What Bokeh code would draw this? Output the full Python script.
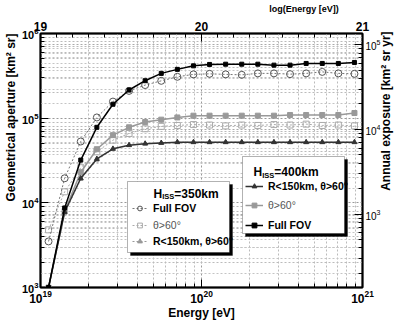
import math
from bokeh.plotting import figure
from bokeh.models import (Range1d, LinearScale, LogScale, LinearAxis, LogAxis,
                          FixedTicker, Grid, Label, BoxAnnotation, Legend, LegendItem, Title)
from bokeh.core.properties import value
from bokeh.embed import file_html
from bokeh.resources import INLINE

# ---------------- data ----------------
log_energy = [19.05, 19.15, 19.25, 19.35, 19.45, 19.55, 19.65, 19.75, 19.85, 19.95,
              20.05, 20.15, 20.25, 20.35, 20.45, 20.55, 20.65, 20.75, 20.85, 20.95]

# H_ISS = 400 km (solid lines)
iss400_full = [1.0e3, 8.7e3, 3.2e4, 7.8e4, 1.46e5, 2.15e5, 2.77e5, 3.38e5, 3.77e5, 4.15e5,
               4.31e5, 4.34e5, 4.34e5, 4.34e5, 4.23e5, 4.23e5, 4.43e5, 4.43e5, 4.43e5, 4.55e5]
iss400_theta60 = [1.0e3, 8.0e3, 2.3e4, 4.3e4, 6.3e4, 7.8e4, 9.0e4, 9.6e4, 1.02e5, 1.07e5,
                  1.07e5, 1.07e5, 1.07e5, 1.07e5, 1.07e5, 1.09e5, 1.09e5, 1.09e5, 1.09e5, 1.15e5]
iss400_r150 = [1.0e3, 7.8e3, 1.95e4, 3.3e4, 4.35e4, 4.8e4, 5.0e4, 5.1e4, 5.2e4, 5.2e4,
               5.2e4, 5.2e4, 5.2e4, 5.2e4, 5.2e4, 5.2e4, 5.2e4, 5.2e4, 5.2e4, 5.2e4]

# H_ISS = 350 km (dotted lines)
iss350_full = [3.5e3, 1.95e4, 5.3e4, 1.02e5, 1.57e5, 2.1e5, 2.46e5, 2.76e5, 3.08e5, 3.29e5,
               3.34e5, 3.29e5, 3.25e5, 3.38e5, 3.38e5, 3.31e5, 3.38e5, 3.52e5, 3.38e5, 3.34e5]
iss350_theta60 = [4.8e3, 1.35e4, 2.6e4, 4.0e4, 5.5e4, 6.6e4, 7.5e4, 8.0e4, 8.2e4, 8.4e4,
                  8.3e4, 8.1e4, 8.3e4, 8.2e4, 8.4e4, 8.3e4, 8.5e4, 8.2e4, 8.3e4, 8.1e4]
iss350_r150 = [1.0e3, 7.5e3, 1.9e4, 3.2e4, 4.3e4, 4.8e4, 5.0e4, 5.1e4, 5.2e4, 5.2e4,
               5.2e4, 5.2e4, 5.2e4, 5.2e4, 5.2e4, 5.2e4, 5.2e4, 5.2e4, 5.2e4, 5.2e4]

exposure_per_aperture = 0.136   # right axis: annual exposure / aperture [yr]

bottom_ticks = [1e19, 1e20, 1e21]
top_ticks = [19, 20, 21]
left_ticks = [1e3, 1e4, 1e5, 1e6]
right_ticks = [1e3, 1e4, 1e5]

# ---------------- figure ----------------
FONT = "Liberation Sans"
NBSP = "\u00a0"
energy = [10 ** v for v in log_energy]


def log_minor(lo, hi):
    return [k * 10.0 ** e for e in range(lo, hi) for k in range(2, 10)]


p = figure(width=402, height=322, x_axis_type="log", y_axis_type="log",
           x_range=Range1d(1e19, 1e21), y_range=Range1d(1e3, 1e6),
           output_backend="svg", toolbar_location=None, title=None,
           min_border_left=40, min_border_right=40, min_border_top=33, min_border_bottom=33,
           background_fill_color="white", border_fill_color="white",
           outline_line_color="black", outline_line_width=2)

p.extra_x_ranges = {"lg": Range1d(19, 21)}
p.extra_x_scales = {"lg": LinearScale()}
p.extra_y_ranges = {"exp": Range1d(1e3 * exposure_per_aperture, 1e6 * exposure_per_aperture)}
p.extra_y_scales = {"exp": LogScale()}

bottom_ticker = FixedTicker(ticks=bottom_ticks, minor_ticks=log_minor(19, 21))
left_ticker = FixedTicker(ticks=left_ticks, minor_ticks=log_minor(3, 6))
right_ticker = FixedTicker(ticks=right_ticks, minor_ticks=log_minor(2, 6))
top_ticker = FixedTicker(ticks=top_ticks,
                         minor_ticks=[round(19 + 0.1 * i, 1) for i in range(1, 20) if i != 10])

bottom = p.xaxis[0]
left = p.yaxis[0]
bottom.ticker = bottom_ticker
left.ticker = left_ticker

top = LinearAxis(x_range_name="lg", ticker=top_ticker)
p.add_layout(top, "above")
right = LogAxis(y_range_name="exp", ticker=right_ticker)
p.add_layout(right, "right")


def style_axis(ax, size, bold=True, standoff=2):
    ax.axis_line_color = "black"
    ax.axis_line_width = 1.5
    ax.major_tick_in = 8
    ax.major_tick_out = 0
    ax.minor_tick_in = 4
    ax.minor_tick_out = 0
    ax.major_tick_line_color = "black"
    ax.minor_tick_line_color = "black"
    ax.major_label_text_font = FONT
    ax.major_label_text_font_style = "bold" if bold else "normal"
    ax.major_label_text_font_size = size
    ax.major_label_text_color = "black"
    ax.major_label_standoff = standoff
    ax.axis_label_text_font = FONT
    ax.axis_label_text_font_style = "bold"
    ax.axis_label_text_color = "black"
    ax.axis_label_text_font_size = "12px"


style_axis(bottom, "12px", standoff=2)
style_axis(left, "11px", standoff=2)
style_axis(top, "12px", standoff=3)
style_axis(right, "10px", bold=False, standoff=3)

# ---- axis titles ----
bottom.axis_label = "Energy [eV]"
bottom.axis_label_standoff = 0

# top title: centred label pushed toward the right end by leading no-break spaces
top.axis_label = NBSP * 82 + "log(Energy [eV])"
top.axis_label_text_font_size = "9px"
top.axis_label_standoff = 5

# right title reads bottom-to-top, anchored at the bottom end and lifted by no-break spaces
right.axis_label = NBSP * 29 + "Annual exposure [km² sr yr]"
right.axis_label_standoff = 2
rprops = right.properties()
if "axis_label_orientation" in rprops:
    right.axis_label_orientation = math.pi / 2
if "axis_label_align" in rprops:
    right.axis_label_align = "start"

p.add_layout(Title(text="Geometrical aperture [km² sr]", align="right", offset=0,
                   standoff=2, text_font=FONT, text_font_style="bold",
                   text_font_size="12px", text_color="black"), "left")

# grids
for g, tk in ((p.xgrid[0], bottom_ticker), (p.ygrid[0], left_ticker)):
    g.ticker = tk
    g.grid_line_color = "#999999"
    g.grid_line_dash = "2 2"
    g.minor_grid_line_color = "#bbbbbb"
    g.minor_grid_line_dash = "2 2"
rg = Grid(dimension=1, y_range_name="exp", ticker=right_ticker,
          grid_line_color="#aaaaaa", grid_line_dash="2 2",
          minor_grid_line_color="#c4c4c4", minor_grid_line_dash="2 2")
p.add_layout(rg)

# ---------------- series ----------------
l350r = p.line(energy, iss350_r150, line_color="#999999", line_width=1, line_dash="2 2")
m350r = p.scatter(energy, iss350_r150, marker="triangle", size=4, fill_color="#999999", line_color="#999999")
l350t = p.line(energy, iss350_theta60, line_color="#aaaaaa", line_width=1, line_dash="2 2")
m350t = p.scatter(energy, iss350_theta60, marker="square", size=6, fill_color=None, line_color="#aaaaaa", line_width=1)
l350f = p.line(energy, iss350_full, line_color="#777777", line_width=1, line_dash="2 2")
m350f = p.scatter(energy, iss350_full, marker="circle", size=7, fill_color=None, line_color="#555555", line_width=1)

l400t = p.line(energy, iss400_theta60, line_color="#999999", line_width=1.5)
m400t = p.scatter(energy, iss400_theta60, marker="square", size=5, fill_color="#999999", line_color="#999999")
l400r = p.line(energy, iss400_r150, line_color="#333333", line_width=1.5)
m400r = p.scatter(energy, iss400_r150, marker="triangle", size=5, fill_color="#333333", line_color="#333333")
l400f = p.line(energy, iss400_full, line_color="black", line_width=1.5)
m400f = p.scatter(energy, iss400_full, marker="square", size=4, fill_color="black", line_color="black")

# ---------------- legend boxes (frame-relative screen units) ----------------


def add_box(l, r, t, b):
    p.add_layout(BoxAnnotation(left=l + 3, right=r + 3, top=t - 3, bottom=b - 3,
                               left_units="screen", right_units="screen",
                               top_units="screen", bottom_units="screen",
                               fill_color="black", fill_alpha=1, line_color="black"))
    p.add_layout(BoxAnnotation(left=l, right=r, top=t, bottom=b,
                               left_units="screen", right_units="screen",
                               top_units="screen", bottom_units="screen",
                               fill_color="white", fill_alpha=1, line_color="black",
                               line_width=1))


def add_header(x, y, alt):
    common = dict(x_units="screen", y_units="screen", text_font=FONT,
                  text_font_style="bold", text_color="black",
                  text_align="left", text_baseline="alphabetic")
    p.add_layout(Label(x=x, y=y, text="H", text_font_size="12px", **common))
    p.add_layout(Label(x=x + 8.7, y=y - 3, text="ISS", text_font_size="7.5px", **common))
    p.add_layout(Label(x=x + 20.8, y=y, text="=%s" % alt, text_font_size="12px", **common))


def add_entry(text, renderers, x, yc, gw, standoff, color="black", bold=True):
    lg = Legend(items=[LegendItem(label=value(text), renderers=renderers)],
                location=(x, yc - 6), orientation="vertical",
                padding=0, margin=0, spacing=0,
                glyph_width=gw, glyph_height=12, label_height=12,
                label_standoff=standoff,
                label_text_font=FONT, label_text_font_size="10.5px",
                label_text_font_style="bold" if bold else "normal",
                label_text_color=color,
                background_fill_alpha=0, border_line_color=None)
    p.add_layout(lg)


add_box(87, 189, 106, 35)
add_header(113, 93.7, "350km")
add_entry("Full FOV", [l350f, m350f], 92, 79, 15, 6)
add_entry("θ>60°", [l350t, m350t], 92, 62.5, 15, 6, color="#555555", bold=False)
add_entry("R<150km, θ>60°", [l350r, m350r], 92, 46, 15, 6)

add_box(202, 304, 131, 54)
add_header(213, 115.2, "400km")
add_entry("R<150km, θ>60°", [l400r, m400r], 205, 100.7, 18, 5)
add_entry("θ>60°", [l400t, m400t], 205, 82.3, 18, 5, color="#555555", bold=False)
add_entry("Full FOV", [l400f, m400f], 205, 62.5, 18, 5)

open("out.html", "w").write(file_html(p, INLINE))
